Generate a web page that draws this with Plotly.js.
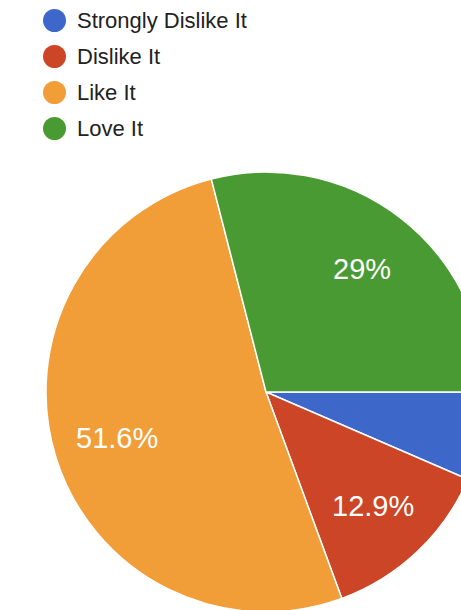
<!DOCTYPE html>
<html>
<head>
<meta charset="utf-8">
<script src="https://cdn.plot.ly/plotly-3.0.1.min.js"></script>
<style>
html, body { margin: 0; padding: 0; overflow: hidden; background: #fff; width: 461px; height: 610px; }
#chart { width: 532px; height: 612px; }
</style>
</head>
<body>
<div id="chart"></div>
<script>
var categories = ['Strongly Dislike It', 'Dislike It', 'Like It', 'Love It'];
var shares = [6.5, 12.9, 51.6, 29];
var colors = ['#3d67c9', '#cc4526', '#f19e38', '#4a9a33'];
var showLabel = [false, true, true, true];

var W = 532, H = 612, T = 172;
var PW = W, PH = H - T;           // plot area
var R = Math.min(PW, PH) / 2;      // pie radius in px
var ROT = 90;                       // degrees, clockwise from 12 o'clock
var LABEL_FRAC = 0.71;
var FONT = 'Liberation Sans, Arial, Helvetica, sans-serif';

var trace = {
  type: 'pie',
  labels: categories,
  values: shares,
  sort: false,
  direction: 'clockwise',
  rotation: ROT,
  marker: { colors: colors, line: { color: '#ffffff', width: 1.5 } },
  textinfo: 'none',
  hoverinfo: 'label+percent',
  showlegend: false
};

function fmtPct(v) {
  var t = (v * 100).toPrecision(3);
  if (t.indexOf('.') !== -1) t = t.replace(/[.]?0+$/, '');
  return t + '%';
}

var total = shares.reduce(function (a, b) { return a + b; }, 0);
var annotations = [];
var shapes = [];
var cum = 0;
shares.forEach(function (v, i) {
  var frac = v / total;
  var mid = (ROT + (cum + frac / 2) * 360) * Math.PI / 180;
  cum += frac;
  if (!showLabel[i]) return;
  var dx = Math.sin(mid) * R * LABEL_FRAC;
  var dy = Math.cos(mid) * R * LABEL_FRAC;   // upward positive
  annotations.push({
    text: fmtPct(frac), xref: 'paper', yref: 'paper',
    x: 0.5 + dx / PW, y: 0.5 + dy / PH,
    xanchor: 'center', yanchor: 'middle', showarrow: false,
    font: { family: FONT, size: 29, color: '#ffffff' }
  });
});

categories.forEach(function (c, i) {
  var yc = 20.5 + i * 36;          // px from top of page
  shapes.push({
    type: 'circle', xref: 'paper', yref: 'paper', xsizemode: 'pixel', ysizemode: 'pixel',
    xanchor: 0, yanchor: 1,
    x0: 43, x1: 66, y0: T - (yc - 11.5), y1: T - (yc + 11.5),
    fillcolor: colors[i], line: { width: 0 }
  });
  annotations.push({
    text: c, xref: 'paper', yref: 'paper', x: 0, y: 1,
    xanchor: 'left', yanchor: 'middle', xshift: 75, yshift: T - yc,
    showarrow: false,
    font: { family: FONT, size: 22, color: '#222222' }
  });
});

var layout = {
  width: W,
  height: H,
  margin: { l: 0, r: 0, t: T, b: 0, pad: 0 },
  paper_bgcolor: '#ffffff',
  showlegend: false,
  shapes: shapes,
  annotations: annotations
};

Plotly.newPlot('chart', [trace], layout, { displayModeBar: false, staticPlot: true });
</script>
</body>
</html>
